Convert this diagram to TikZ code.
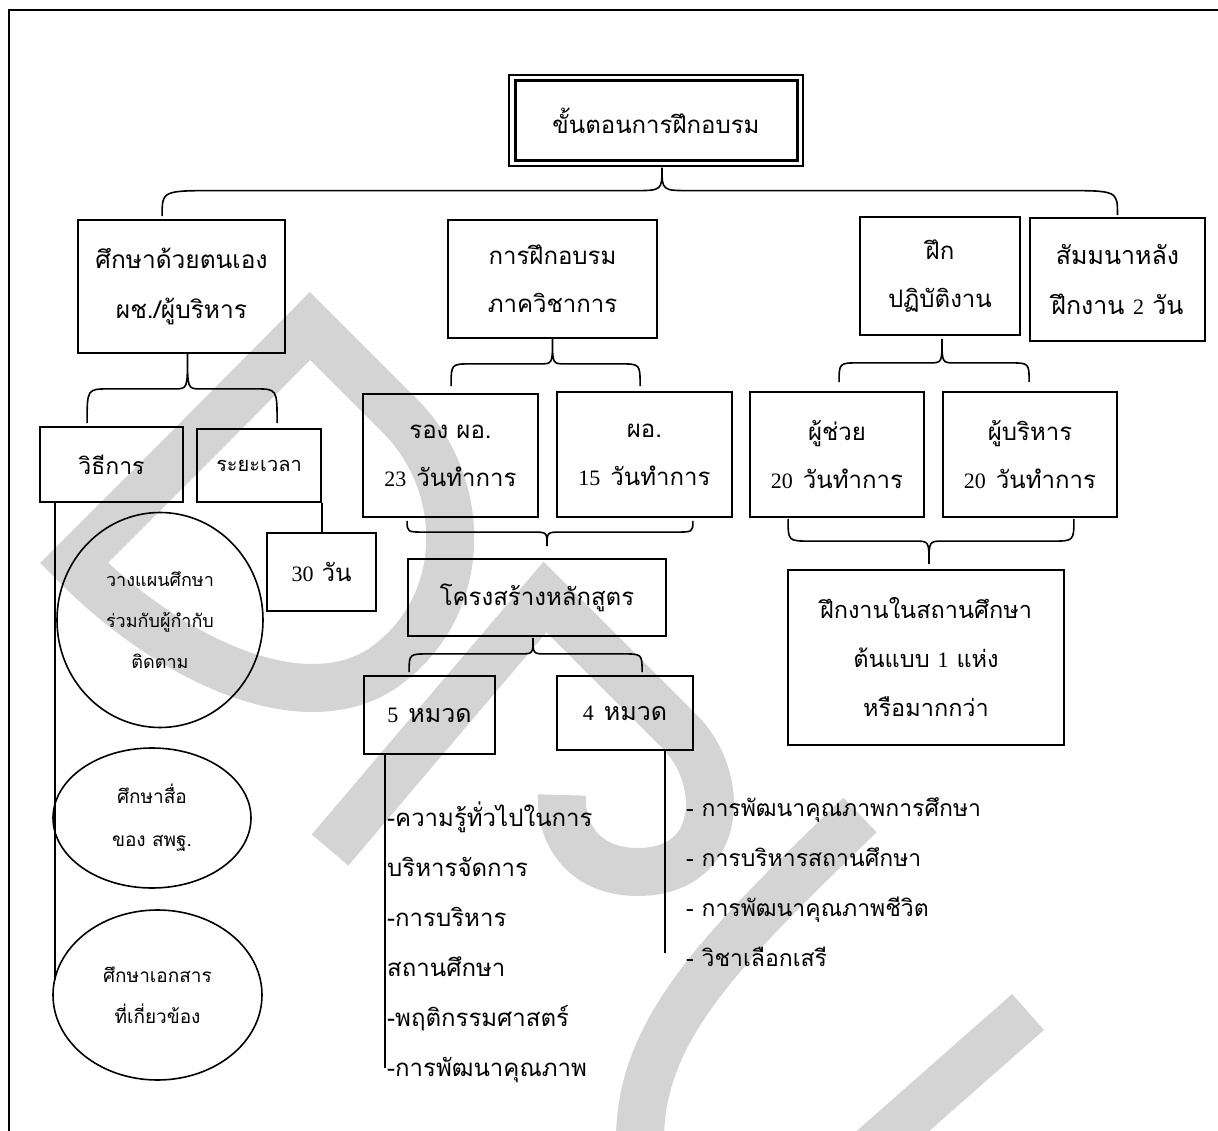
\documentclass[tikz,border=0pt]{standalone}
\usepackage{fontspec}
\setmainfont{Liberation Serif}
\newfontfamily\thaifont[Script=Thai]{Loma}
\usetikzlibrary{calc,shapes.geometric}
\definecolor{wm}{RGB}{212,212,212}
\newcommand\dgt[1]{{\rmfamily\fontsize{22}{22}\selectfont #1}}
\newcommand\tsize[2]{\thaifont\fontsize{#1}{#2}\selectfont}
% curly brace: tip, left end, right end, arm level, end radius, tip radius
\newcommand\curly[6]{%
  \draw[brace] let \p1=(#1), \p2=(#2), \p3=(#3), \p4=(#4) in
    (\p2) .. controls (\x2,\y4) .. ({\x2+#5pt},\y4)
    -- ({\x1-#6pt},\y4) .. controls (\x1,\y4) .. (\p1)
    .. controls (\x1,\y4) .. ({\x1+#6pt},\y4)
    -- ({\x3-#5pt},\y4) .. controls (\x3,\y4) .. (\p3);}
\begin{document}
\begin{tikzpicture}[x=1pt,y=-1pt,
  box/.style={draw, line width=1.8pt, inner sep=0pt, align=center, font=\tsize{24}{48}},
  ring/.style={draw, ellipse, line width=1.6pt, inner sep=0pt, align=center, font=\tsize{18}{41}},
  brace/.style={line width=1.6pt},
  lead/.style={line width=1.6pt},
  item/.style={anchor=base west, inner sep=0pt, font=\tsize{24}{24}},
  wmark/.style={draw=wm, line width=48pt, line join=miter}]
\useasboundingbox (0,0) rectangle (1218,1131);

% background emblem
\draw[wmark] (192,445) -- (310,326) -- (400,416)
   .. controls (470,486) and (470,610) .. (380,670)
   .. controls (300,720) and (170,660) .. (74,563) -- cycle;
\draw[wmark] (330,850) -- (545,597) -- (680,732)
   .. controls (725,777) and (725,870) .. (640,872)
   .. controls (585,873) and (560,835) .. (562,795);
\draw[wmark] (860,815) .. controls (720,950) and (640,1030) .. (640,1140);
\draw[wmark] (1028,1012) -- (860,1160);

% page frame
\draw[line width=2pt] (1218,10) -- (9,10) -- (9,1131);

% top level
\node[box, line width=1.2pt, minimum width=294, minimum height=91, font=\tsize{24}{24}] (title) at (656,120.5) {ขั้นตอนการฝึกอบรม};
\draw[line width=2.8pt] ($(title.north west)+(7,6)$) rectangle ($(title.south east)+(-6,-6)$);

\node[box, minimum width=207, minimum height=133, font=\tsize{24.5}{50}] (b1) at (181.5,286.5) {ศึกษาด้วยตนเอง\\ผช./ผู้บริหาร};
\node[box, minimum width=209, minimum height=118] (b2) at (552.5,279) {การฝึกอบรม\\ภาควิชาการ};
\node[box, minimum width=160, minimum height=118] (b3) at (940,276) {ฝึก\\ปฏิบัติงาน};
\node[box, minimum width=175, minimum height=123, font=\tsize{25}{50}] (b4) at (1117.5,279.5) {สัมมนาหลัง\\ฝึกงาน \dgt{2} วัน};

\coordinate (mt) at ($(title.south)+(6,1)$);
\coordinate (ml) at ($(b1.north west)+(85,-3)$);
\coordinate (mr) at ($(b4.north)+(0,-2)$);
\coordinate (ma) at ($(title.south)+(0,24)$);
\curly{mt}{ml}{mr}{ma}{55}{28}

% self study branch
\node[box, minimum width=143, minimum height=75, font=\tsize{23}{23}] (vt) at (111.5,464.5) {วิธีการ};
\node[box, minimum width=124, minimum height=73, font=\tsize{20}{20}] (ry) at (259,465.5) {ระยะเวลา};
\node[box, minimum width=109, minimum height=78] (d30) at (321.5,572) {\dgt{30} วัน};

\coordinate (s1t) at ($(b1.south)+(6,0)$);
\coordinate (s1l) at ($(vt.north west)+(48,-3)$);
\coordinate (s1r) at ($(ry.north west)+(81,-5)$);
\coordinate (s1a) at ($(b1.south)+(0,35)$);
\curly{s1t}{s1l}{s1r}{s1a}{22}{13}

\node[ring, minimum width=206, minimum height=215] (c1) at (160,620) {วางแผนศึกษา\\ร่วมกับผู้กำกับ\\ติดตาม};
\node[ring, minimum width=198, minimum height=140, font=\tsize{19}{43}] (c2) at (152,818) {ศึกษาสื่อ\\ของ สพฐ.};
\node[ring, minimum width=209, minimum height=170, font=\tsize{19}{41}] (c3) at (157.5,995) {ศึกษาเอกสาร\\ที่เกี่ยวข้อง};

\coordinate (vtend) at (55,980);
\draw[lead] (vt.south west -| vtend) -- (vtend);
\draw[lead] (ry.south east) -- (ry.south east |- d30.north);

% academic training branch
\node[box, minimum width=175, minimum height=123] (r23) at (450.5,455.5) {รอง ผอ.\\\dgt{23}\hspace{10pt}วันทำการ};
\node[box, minimum width=175, minimum height=125] (r15) at (644.5,454.5) {ผอ.\\\dgt{15}\hspace{10pt}วันทำการ};
\coordinate (s2t) at (b2.south);
\coordinate (s2l) at ($(r23.north west)+(89,-7)$);
\coordinate (s2r) at ($(r15.north west)+(84,-5)$);
\coordinate (s2a) at ($(b2.south)+(0,25)$);
\curly{s2t}{s2l}{s2r}{s2a}{20}{13}

\node[box, minimum width=258, minimum height=77] (kr) at (537,597.5) {โครงสร้างหลักสูตร};
\coordinate (u2t) at ($(kr.north)+(10,-12)$);
\coordinate (u2l) at ($(r23.south west)+(45,3)$);
\coordinate (u2r) at ($(r15.south east)+(-40,3)$);
\coordinate (u2a) at ($(kr.north)+(0,-26)$);
\curly{u2t}{u2l}{u2r}{u2a}{18}{14}

\node[box, minimum width=131, minimum height=78, font=\tsize{25}{25}] (m5) at (429.5,715) {\dgt{5}\hspace{10pt}หมวด};
\node[box, minimum width=136, minimum height=74, font=\tsize{25}{25}] (m4) at (625,713) {\dgt{4}\hspace{10pt}หมวด};
\coordinate (k2t) at ($(kr.south)+(-4,1)$);
\coordinate (k2l) at ($(m5.north west)+(46,-3)$);
\coordinate (k2r) at ($(m4.north west)+(86,-3)$);
\coordinate (k2a) at ($(kr.south)+(0,17)$);
\curly{k2t}{k2l}{k2r}{k2a}{20}{13}

\coordinate (m5end) at (385,1068);
\draw[lead] (m5.south west -| m5end) -- (m5end);
\coordinate (m4end) at (665,953);
\draw[lead] (m4.south -| m4end) -- (m4end);

\node[item] (p1) at (387,826) {-ความรู้ทั่วไปในการ};
\node[item] (p2) at (387,876) {บริหารจัดการ};
\node[item] (p3) at (387,926) {-การบริหาร};
\node[item] (p4) at (387,976) {สถานศึกษา};
\node[item] (p5) at (387,1026) {-พฤติกรรมศาสตร์};
\node[item] (p6) at (387,1076) {-การพัฒนาคุณภาพ};

\node[item, font=\tsize{23}{23}] (q1) at (686,816) {- การพัฒนาคุณภาพการศึกษา};
\node[item, font=\tsize{23}{23}] (q2) at (686,866) {- การบริหารสถานศึกษา};
\node[item, font=\tsize{23}{23}] (q3) at (686,916) {- การพัฒนาคุณภาพชีวิต};
\node[item, font=\tsize{23}{23}] (q4) at (686,966) {- วิชาเลือกเสรี};

% practice branch
\node[box, minimum width=174, minimum height=125] (pa) at (837,454.5) {ผู้ช่วย\\\dgt{20}\hspace{10pt}วันทำการ};
\node[box, minimum width=174, minimum height=125] (pb) at (1030,454.5) {ผู้บริหาร\\\dgt{20}\hspace{10pt}วันทำการ};
\coordinate (s3t) at ($(b3.south)+(2,3)$);
\coordinate (s3l) at ($(pa.north west)+(90,-9)$);
\coordinate (s3r) at ($(pb.north west)+(87,-9)$);
\coordinate (s3a) at ($(b3.south)+(0,27)$);
\curly{s3t}{s3l}{s3r}{s3a}{20}{13}

\node[box, minimum width=276, minimum height=175, font=\tsize{23.5}{49}] (fk) at (926,657.5) {ฝึกงานในสถานศึกษา\\ต้นแบบ \dgt{1} แห่ง\\หรือมากกว่า};
\coordinate (u3t) at ($(fk.north)+(3,-5)$);
\coordinate (u3l) at ($(pa.south west)+(39,1)$);
\coordinate (u3r) at ($(pb.south east)+(-44,1)$);
\coordinate (u3a) at ($(fk.north)+(0,-28)$);
\curly{u3t}{u3l}{u3r}{u3a}{22}{14}
\end{tikzpicture}
\end{document}
